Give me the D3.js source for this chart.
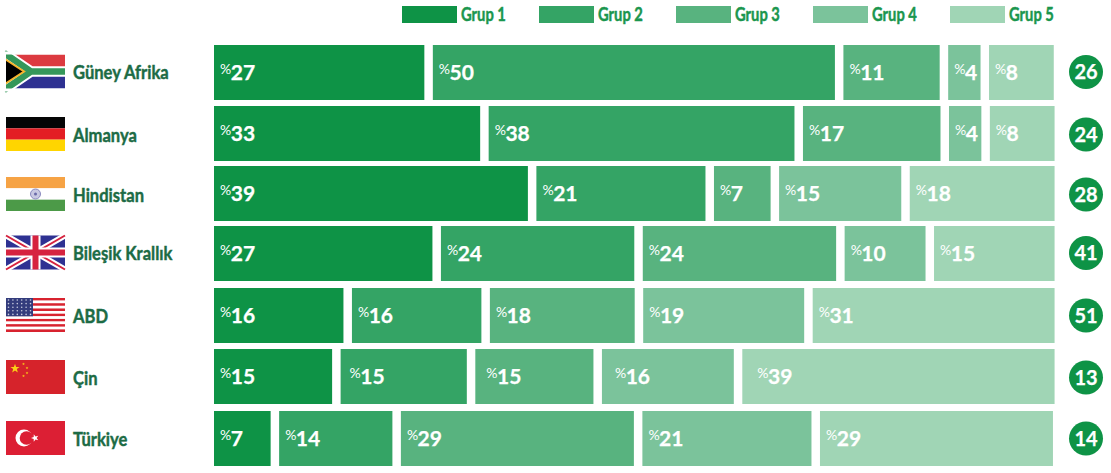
<!doctype html>
<html>
  <head>
    <meta charset="utf-8">
    <title>Gruplar</title>
    <script src="https://cdnjs.cloudflare.com/ajax/libs/d3/7.8.5/d3.min.js"></script>
    <style>
      body { margin: 0; background: #fff; }
      text { font-family: Lato, "Open Sans", sans-serif; font-weight: 700; }
      .heavy { stroke-width: 0.45; paint-order: stroke; }
      .num { stroke-width: 0.25; }
    </style>
  </head>
  <body>
    <div id="root"></div>
    <script>
      const countries = ['Güney Afrika','Almanya','Hindistan','Bileşik Krallık','ABD','Çin','Türkiye'];
      const flags = ['za','de','in','uk','us','cn','tr'];
      const groups = ['Grup 1','Grup 2','Grup 3','Grup 4','Grup 5'];
      const colors = ['#0e9346','#34a465','#58b37f','#7bc39b','#a0d5b5'];

      // printed percentages
      const printed = [
        [27,50,11,4,8],
        [33,38,17,4,8],
        [39,21,7,15,18],
        [27,24,24,10,15],
        [16,16,18,19,31],
        [15,15,15,16,39],
        [7,14,29,21,29]
      ];
      // bar lengths, they do not always follow the printed number
      const shares = [
        [26,49.7,11.9,4,8],
        [32.9,37.8,17,4,8],
        [38.8,20.9,7,15.1,17.9],
        [27,23.9,23.9,10,14.9],
        [16,16,17.9,19.9,29.9],
        [14.6,15.6,14.6,16.3,38.6],
        [7,14,28.8,20.9,28.8]
      ];
      const totals = [26,24,28,41,51,13,14];

      const width = 1111, height = 473;
      const gap = 8.5, barH = 55;

      const svg = d3.select('#root').append('svg')
        .attr('width',width)
        .attr('height',height)
        .style('display','block');

      const xScale = d3.scaleLinear().domain([0,100]).range([0,809]);
      const yScale = d3.scaleOrdinal().domain(countries).range([45,106,166,226,288,349,411]);
      // the flags and names do not sit at the same distance from the bars on every row
      const flagY = d3.scaleOrdinal().domain(countries).range([54.5,117,177,235.5,298,360,421]);

      // legend
      const legendX = d3.scalePoint().domain(groups).range([402,950]);
      const legend = svg.append('g').selectAll('g').data(groups).enter().append('g')
        .attr('transform',d => 'translate(' + legendX(d) + ',6)');
      legend.append('rect')
        .attr('width',55).attr('height',17)
        .attr('fill',(d,i) => colors[i]);
      legend.append('text')
        .attr('class','heavy')
        .attr('transform','translate(59,14.5) scale(0.82,1)')
        .attr('font-size',18)
        .attr('fill','#1a964e')
        .attr('stroke','#1a964e')
        .text(d => d);

      // bars
      const rows = svg.append('g').selectAll('g').data(countries).enter().append('g')
        .attr('transform',d => 'translate(0,' + yScale(d) + ')');

      rows.each(function(c,r){
        let x = 214;
        const segs = shares[r].map((s,i) => {
          const seg = {x:x,w:xScale(s),i:i,label:printed[r][i]};
          x += seg.w + gap;
          return seg;
        });
        const cell = d3.select(this).selectAll('.cell').data(segs).enter().append('g')
          .attr('class','cell')
          .attr('transform',d => 'translate(' + d.x + ',0)');
        cell.append('rect')
          .attr('width',d => d.w)
          .attr('height',barH)
          .attr('fill',d => colors[d.i]);
        // the labels on the Çin row are set further in
        const inset = d => (c === 'Çin' && d.i > 0) ? 6 + d.i*2 + 1 : 6;
        const t = cell.append('text').attr('x',inset).attr('y',35).attr('fill','#fff');
        t.append('tspan').attr('font-size',14).attr('dy',-6).style('font-weight',400).text('%');
        t.append('tspan').attr('class','heavy num').attr('stroke','#fff').attr('font-size',21).attr('dy',6).attr('dx',-0.5).text(d => d.label);
      });

      // names, totals and flags
      const heads = svg.append('g').selectAll('g').data(countries).enter().append('g')
        .attr('transform',d => 'translate(0,' + flagY(d) + ')');

      heads.append('text')
        .attr('class','heavy')
        .attr('transform','translate(73,24.5) scale(0.85,1)')
        .attr('font-size',19.5)
        .attr('fill','#1c6b45')
        .attr('stroke','#1c6b45')
        .text(d => d);

      heads.append('circle')
        .attr('cx',1086).attr('cy',17.5).attr('r',17)
        .attr('fill','#0e9346');
      heads.append('text')
        .attr('class','heavy num')
        .attr('x',1086).attr('y',24.5)
        .attr('text-anchor','middle')
        .attr('font-size',20)
        .attr('fill','#fff')
        .attr('stroke','#fff')
        .text((d,i) => totals[i]);

      // flags, each one is 59x34
      const flag = heads.append('g').attr('transform','translate(6,0)');
      const bands = (g,cols) => cols.forEach((c,i) => {
        g.append('rect').attr('y',i*34/cols.length).attr('width',59).attr('height',34/cols.length).attr('fill',c);
      });
      const star = (g,x,y,r,fill,rot) => {
        const pts = d3.range(10).map(k => {
          const a = (k*36 - 90 + (rot||0))*Math.PI/180, q = k%2 ? r*0.4 : r;
          return [x+q*Math.cos(a),y+q*Math.sin(a)];
        });
        g.append('polygon').attr('points',pts.join(' ')).attr('fill',fill);
      };
      const draw = {
        za(g){
          g.append('rect').attr('width',59).attr('height',17).attr('fill','#dc3a40');
          g.append('rect').attr('y',17).attr('width',59).attr('height',17).attr('fill','#2e3192');
          g.append('path').attr('d','M0,0L25,17L0,34Z').attr('fill','#000');
          g.append('path').attr('d','M-2,-1.5L25,17L-2,35.5M25,17L59,17').attr('fill','none').attr('stroke','#fff').attr('stroke-width',10.5);
          g.append('path').attr('d','M-2,-1.5L25,17L-2,35.5M25,17L59,17').attr('fill','none').attr('stroke','#35975a').attr('stroke-width',6.5);
          g.append('path').attr('d','M-2,4L18,17L-2,30Z').attr('fill','#000').attr('stroke','#f7b32b').attr('stroke-width',2);
          g.append('rect').attr('x',-6).attr('y',-3).attr('width',6).attr('height',40).attr('fill','#fff');
          g.append('rect').attr('y',-3).attr('width',59).attr('height',3).attr('fill','#fff');
          g.append('rect').attr('y',34).attr('width',59).attr('height',3).attr('fill','#fff');
        },
        de(g){ bands(g,['#050505','#e31e24','#ffd500']); },
        in(g){
          bands(g,['#f6a345','#fff','#4c9a48']);
          g.append('circle').attr('cx',29.5).attr('cy',17).attr('r',5).attr('fill','#c9c9e2').attr('stroke','#8a8abf');
          g.append('circle').attr('cx',29.5).attr('cy',17).attr('r',1.5).attr('fill','#6a6aa8');
        },
        uk(g){
          g.append('rect').attr('width',59).attr('height',34).attr('fill','#2e3192');
          g.append('path').attr('d','M0,0L59,34M59,0L0,34').attr('stroke','#fff').attr('stroke-width',6);
          g.append('path').attr('d','M0,0L59,34M59,0L0,34').attr('stroke','#d6233f').attr('stroke-width',2);
          g.append('path').attr('d','M29.5,0V34M0,17H59').attr('stroke','#fff').attr('stroke-width',10);
          g.append('path').attr('d','M29.5,0V34M0,17H59').attr('stroke','#d6233f').attr('stroke-width',6);
        },
        us(g){
          d3.range(13).forEach(k => {
            g.append('rect').attr('y',k*34/13).attr('width',59).attr('height',34/13).attr('fill',k%2 ? '#fff' : '#d8232f');
          });
          g.append('rect').attr('width',27).attr('height',18.3).attr('fill','#333c7c');
          d3.range(5).forEach(a => d3.range(6).forEach(b => {
            g.append('circle').attr('cx',2.5+b*4.4).attr('cy',2+a*3.6).attr('r',0.8).attr('fill','#c9cce0');
          }));
        },
        cn(g){
          g.append('rect').attr('width',59).attr('height',34).attr('fill','#d6232b');
          star(g,9,8.5,4.8,'#fbd116');
          [[17.5,4],[21,8],[21,13],[17.5,16]].forEach(p => star(g,p[0],p[1],1.5,'#fbd116'));
        },
        tr(g){
          g.append('rect').attr('width',59).attr('height',34).attr('fill','#dc1f34');
          g.append('circle').attr('cx',18).attr('cy',17).attr('r',8.5).attr('fill','#fff');
          g.append('circle').attr('cx',20.5).attr('cy',17).attr('r',6.8).attr('fill','#dc1f34');
          star(g,29,17,4,'#fff',-90);
        }
      };
      flag.each(function(d,i){ draw[flags[i]](d3.select(this)); });
    </script>
  </body>
</html>
